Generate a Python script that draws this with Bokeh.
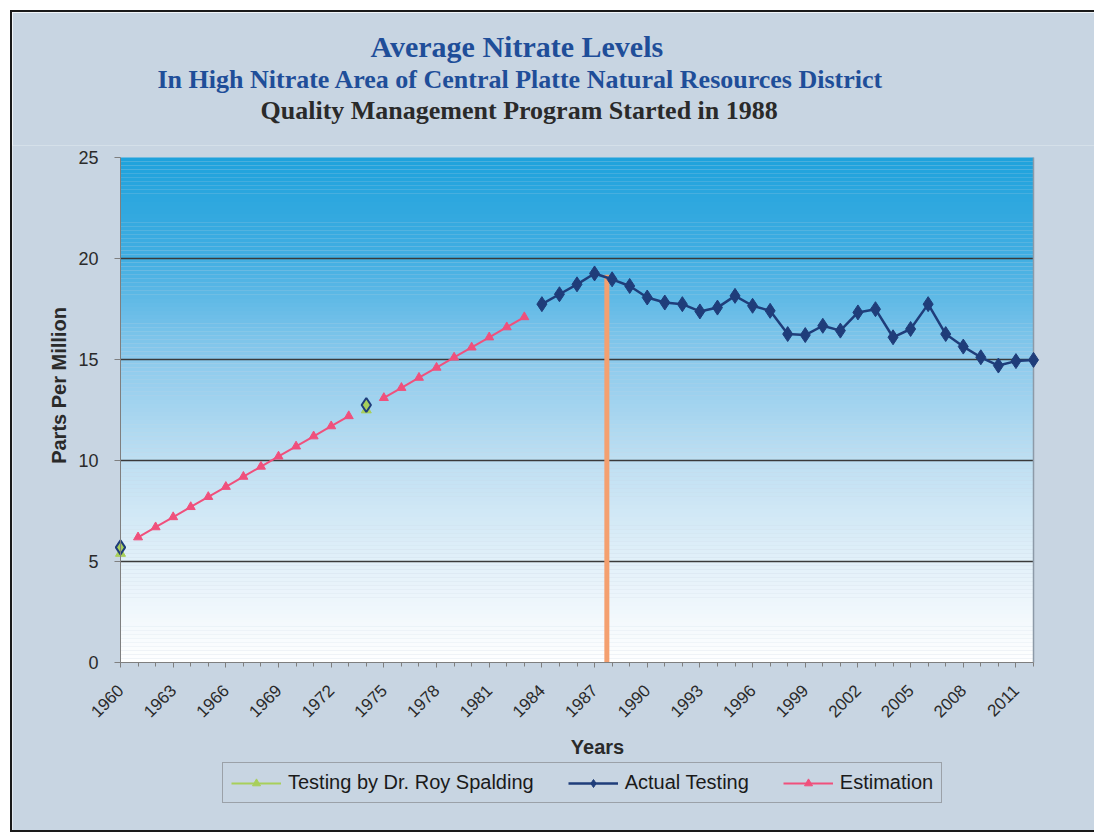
import numpy as np
from bokeh.plotting import figure
from bokeh.models import (ColumnDataSource, FixedTicker, Legend, LegendItem, Range1d, Title)
from bokeh.embed import file_html
from bokeh.resources import INLINE
from bokeh.core.properties import value

# ---------------- data ----------------
actual_years = list(range(1984, 2013))
actual_ppm = [17.74, 18.23, 18.72, 19.26, 18.97, 18.64, 18.07, 17.82, 17.74, 17.38,
              17.57, 18.15, 17.66, 17.41, 16.26, 16.21, 16.67, 16.43, 17.33, 17.49,
              16.10, 16.51, 17.74, 16.26, 15.64, 15.11, 14.70, 14.92, 14.98]

est_years = list(range(1961, 1984))
est_ppm = [6.2, 6.7, 7.2, 7.7, 8.2, 8.7, 9.2, 9.7, 10.2, 10.7, 11.2, 11.7, 12.2,
           np.nan,
           13.1, 13.6, 14.1, 14.6, 15.1, 15.6, 16.1, 16.6, 17.1]

spalding_years = [1960, 1974]
spalding_tri = [5.4, 12.5]
spalding_dia = [5.7, 12.75]

program_year = [1987.7]
program_top = [19.2]

x_start, x_end = 1960, 2012
y_start, y_end = 0, 25
x_ticks = list(range(1960, 2012, 3))
x_minor = list(range(1960, 2013))
y_ticks = [0, 5, 10, 15, 20, 25]
y_grid = [5, 10, 15, 20]

title_lines = ["Average Nitrate Levels",
               "In High Nitrate Area of Central Platte Natural Resources District",
               "Quality Management Program Started in 1988"]
x_title = "Years"
y_title = "Parts Per Million"

# ---------------- layout / styling constants ----------------
BG = "#C8D5E2"
BORDER = "2px solid #1a1a1a"
NAVY = "#1f3d7a"
PINK = "#f0507c"
GREEN = "#a8cf5a"

# the plotting frame covers the whole chart below the titles; the 0..25 / 1960..2012
# area is a 913 x 505 px window inside it, so axes, labels and legend are not clipped
AREA_W, AREA_H = 913, 505
PAD_L, PAD_R, PAD_B, PAD_T = 108, 61, 168, 12
dx = (x_end - x_start) / AREA_W      # data units per pixel
dy = (y_end - y_start) / AREA_H

def px_x(px):   # page pixel (x) -> data x   (plot area left edge is at page x = 120)
    return x_start + (px - 120) * dx

def px_y(py):   # page pixel (y) -> data y   (value 0 is at page y = 662)
    return y_start - (py - 662) * dy

p = figure(output_backend="svg", toolbar_location=None,
           x_range=Range1d(x_start - PAD_L * dx, x_end + PAD_R * dx),
           y_range=Range1d(y_start - PAD_B * dy, y_end + PAD_T * dy),
           frame_width=AREA_W + PAD_L + PAD_R, frame_height=AREA_H + PAD_B + PAD_T,
           min_border_left=0, min_border_right=0,
           min_border_top=145 - PAD_T, min_border_bottom=0,
           background_fill_color=BG, border_fill_color=BG)
p.styles = {"margin-left": "10px", "margin-top": "10px",
            "border-left": BORDER, "border-top": BORDER, "border-bottom": BORDER}
p.outline_line_color = None
p.title.standoff = 0

# ---------------- titles (closest to the frame first) ----------------
p.add_layout(Title(text=" ", text_font_size="16px", standoff=2,
                   text_font="Liberation Serif"), "above")
title_specs = [(title_lines[2], 140, "26px", "#2a2a2a"),
               (title_lines[1], 37, "26px", "#1f4e99"),
               (title_lines[0], 250, "30px", "#1f4e99")]
for txt, off, fs, col in title_specs:
    p.add_layout(Title(text=txt, align="left", offset=off + PAD_L, standoff=0,
                       text_font="Liberation Serif", text_font_style="bold",
                       text_font_size=fs, text_color=col), "above")

# gradient background of the plot area
nb = 125
edges = np.linspace(y_start, y_end, nb + 1)
stops_y = np.array([0, 5, 10, 15, 20, 25])
stops_c = np.array([[255, 255, 255], [226, 240, 249], [190, 223, 242],
                    [140, 202, 236], [66, 174, 226], [30, 162, 220]])
mids = (edges[:-1] + edges[1:]) / 2
cols = []
for m in mids:
    rgb = [int(round(np.interp(m, stops_y, stops_c[:, k]))) for k in range(3)]
    cols.append("#%02x%02x%02x" % tuple(rgb))
p.quad(left=x_start, right=x_end, bottom=edges[:-1], top=edges[1:],
       fill_color=cols, line_color=None, level="underlay")
# thin right-hand border of the plot area
p.segment(x0=[x_end], y0=[y_start], x1=[x_end], y1=[y_end],
          line_color="#8d9aa8", line_width=1.5)

# horizontal grid lines limited to the plot area
p.xgrid.grid_line_color = None
p.ygrid.grid_line_color = None
p.segment(x0=[x_start] * len(y_grid), y0=y_grid, x1=[x_end] * len(y_grid), y1=y_grid,
          line_color="#3a3a3a", line_width=1.5, level="underlay")

# axes (pinned to the plot area)
p.yaxis.ticker = FixedTicker(ticks=y_ticks)
p.yaxis.bounds = (y_start, y_end)
p.yaxis.fixed_location = x_start
p.xaxis.ticker = FixedTicker(ticks=x_ticks, minor_ticks=x_minor)
p.xaxis.bounds = (x_start, x_end)
p.xaxis.fixed_location = y_start
p.xaxis.major_label_orientation = np.pi / 4
for ax in (p.xaxis[0], p.yaxis[0]):
    ax.axis_line_color = "#7f7f7f"
    ax.major_tick_line_color = "#7f7f7f"
    ax.minor_tick_line_color = "#7f7f7f"
    ax.major_label_text_font = "Liberation Sans"
    ax.major_label_text_color = "#2a2a2a"
p.yaxis.major_label_text_font_size = "18px"
p.yaxis.major_tick_out = 6
p.yaxis.major_tick_in = 0
p.yaxis.minor_tick_line_color = None
p.yaxis.major_label_standoff = 16
p.xaxis.major_label_text_font_size = "17px"
p.xaxis.major_tick_out = 5
p.xaxis.major_tick_in = 0
p.xaxis.minor_tick_out = 4
p.xaxis.minor_tick_in = 0
p.xaxis.major_label_standoff = 20

# axis titles
p.text(x=[px_x(597)], y=[px_y(746)], text=[x_title], text_align="center",
       text_baseline="middle", text_font=value("Liberation Sans"),
       text_font_style="bold", text_font_size="20px", text_color="#2a2a2a")
p.text(x=[px_x(58)], y=[px_y(385)], text=[y_title], angle=np.pi / 2,
       text_align="center", text_baseline="middle", text_font=value("Liberation Sans"),
       text_font_style="bold", text_font_size="20px", text_color="#2a2a2a")

# series
p.segment(x0=program_year, y0=[y_start], x1=program_year, y1=program_top,
          line_color="#f4a070", line_width=5)

est_src = ColumnDataSource(dict(x=est_years, y=est_ppm))
est_line = p.line("x", "y", source=est_src, line_color=PINK, line_width=2)
est_pts = p.scatter("x", "y", source=est_src, marker="triangle", size=9,
                    fill_color=PINK, line_color=PINK)

act_src = ColumnDataSource(dict(x=actual_years, y=actual_ppm))
act_line = p.line("x", "y", source=act_src, line_color=NAVY, line_width=2.5)
act_pts = p.scatter("x", "y", source=act_src, marker="diamond", size=15,
                    fill_color=NAVY, line_color=NAVY)

sp_src = ColumnDataSource(dict(x=spalding_years, tri=spalding_tri, dia=spalding_dia,
                               gap=[np.nan] * len(spalding_years)))
sp_line = p.line("x", "gap", source=sp_src, line_color=GREEN, line_width=2)
sp_tri = p.scatter("x", "tri", source=sp_src, marker="triangle", size=10,
                   fill_color=GREEN, line_color=GREEN)
sp_dia = p.scatter("x", "dia", source=sp_src, marker="diamond", size=14,
                   fill_color=GREEN, line_color=NAVY, line_width=2)

legend = Legend(items=[
    LegendItem(label="Testing by Dr. Roy Spalding", renderers=[sp_line, sp_tri]),
    LegendItem(label="Actual Testing", renderers=[act_line, act_pts]),
    LegendItem(label="Estimation", renderers=[est_line, est_pts]),
], orientation="horizontal", location=(222 - 12, 830 - 803))
legend.label_text_font = "Liberation Sans"
legend.label_text_font_size = "20px"
legend.label_text_color = "#1a1a1a"
legend.glyph_width = 50
legend.glyph_height = 20
legend.label_standoff = 7
legend.spacing = 34
legend.padding = 8
legend.margin = 0
legend.border_line_color = "#6e6e6e"
legend.border_line_width = 1
legend.background_fill_alpha = 0
p.add_layout(legend, "center")

html = file_html(p, INLINE)
html = html.replace("<body>", '<body style="overflow:hidden">', 1)
open("out.html", "w").write(html)
